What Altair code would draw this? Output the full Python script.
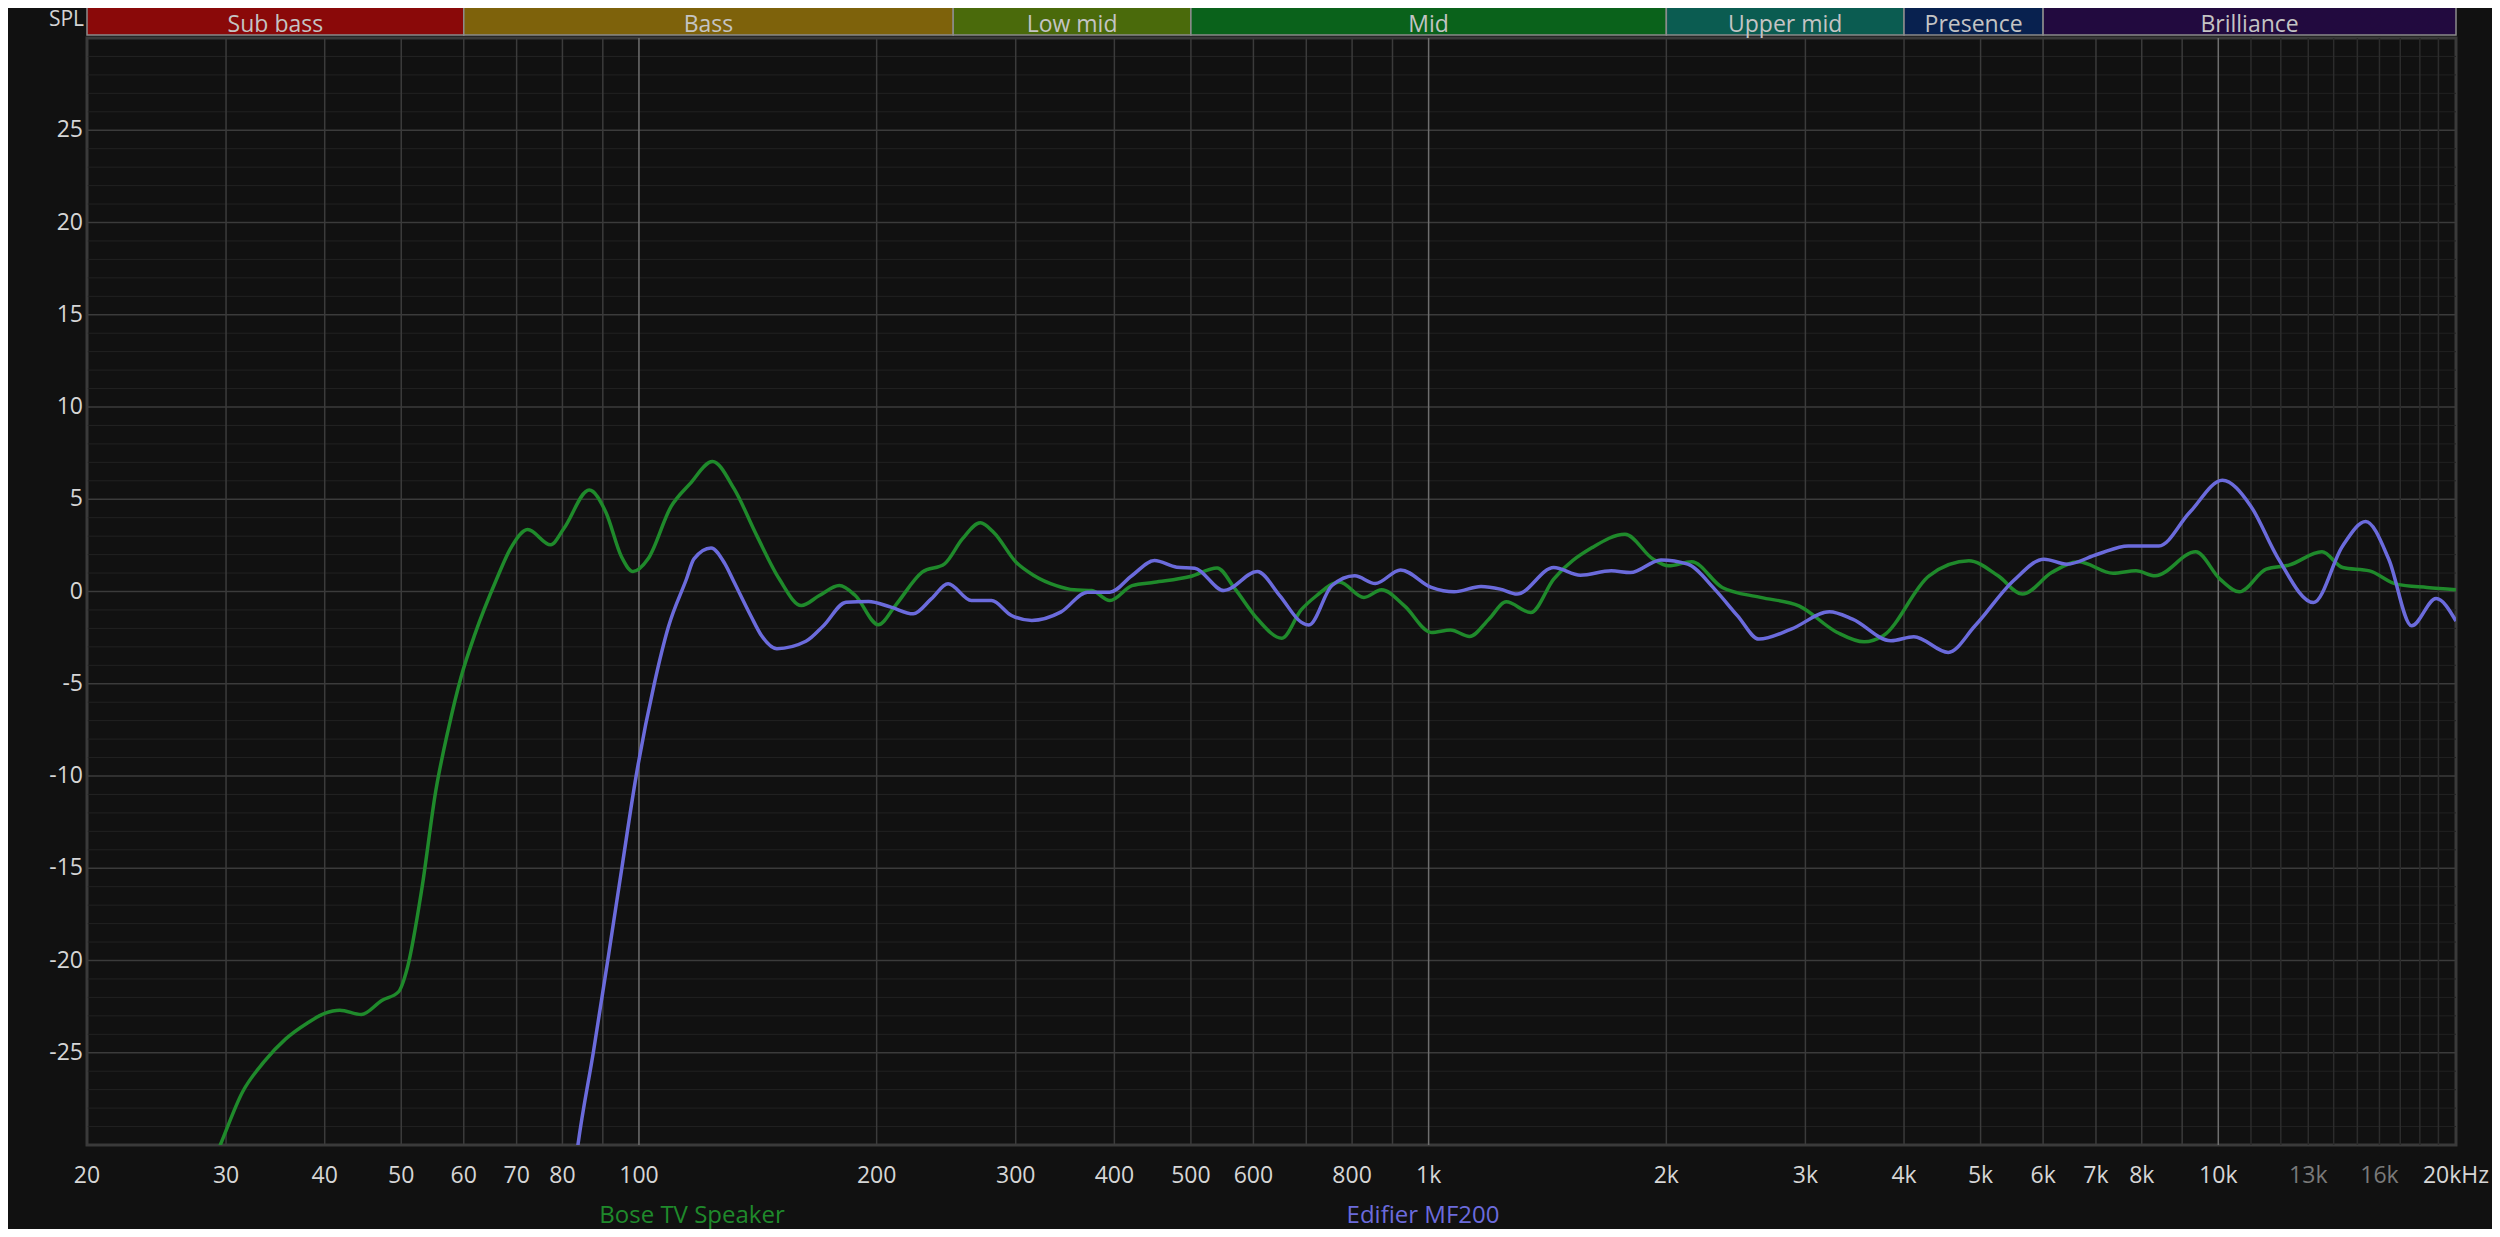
import altair as alt
import pandas as pd

# ---------------- data ----------------
green_f = [27.5, 29.5, 31.5, 33.5, 35.7, 38.0, 40.0, 41.8, 44.5, 47.3, 49.6, 50.9, 53.1, 55.3,
           57.4, 59.5, 62.0, 66.0, 68.7, 72.3, 77.3, 80.3, 86.5, 90.8, 95.0, 98.3, 102.7,
           109.8, 116.0, 123.9, 132.0, 141.0, 150.5, 160.6, 169.2, 179.4, 187.9, 201.0,
           211.2, 228.4, 243.8, 256.8, 270.6, 281.4, 300.3, 316.3, 337.6, 355.6, 374.6,
           394.7, 421.2, 449.6, 499.0, 539.7, 568.6, 606.7, 651.9, 689.5, 721.0, 770.8,
           828.2, 872.0, 932.0, 1008, 1066, 1127, 1192, 1254, 1347, 1440, 1611, 1773, 1925,
           2013, 2153, 2354, 2632, 2944, 3292, 3560, 3764, 4303, 4833, 5262, 5650, 6152,
           6650, 7356, 7867, 8316, 9363, 10050, 10630, 11500, 12290, 13530, 14370, 15540,
           16810, 18380, 20000]
green_db = [-33.2, -30.0, -27.1, -25.5, -24.25, -23.4, -22.87, -22.7, -22.93, -22.15, -21.7,
            -20.4, -16.1, -10.8, -7.4, -4.67, -2.3, 0.65, 2.3, 3.36, 2.53, 3.4, 5.5, 4.3, 1.9,
            1.08, 1.77, 4.6, 5.83, 7.05, 5.56, 3.03, 0.69, -0.76, -0.22, 0.32, -0.22, -1.8,
            -0.76, 1.05, 1.5, 2.85, 3.72, 3.2, 1.59, 0.87, 0.32, 0.09, 0.05, -0.49, 0.32,
            0.5, 0.81, 1.28, 0.14, -1.48, -2.53, -1.0, -0.23, 0.52, -0.32, 0.09, -0.78,
            -2.22, -2.09, -2.44, -1.5, -0.56, -1.14, 0.67, 2.38, 3.1, 1.75, 1.39, 1.61, 0.22,
            -0.32, -0.78, -2.22, -2.73, -2.4, 0.85, 1.66, 0.85, -0.14, 1.03, 1.61, 0.99,
            1.12, 0.85, 2.15, 0.67, -0.02, 1.21, 1.43, 2.15, 1.3, 1.12, 0.4, 0.22, 0.1]

purple_f = [81.5, 83.7, 87.6, 91.3, 95.2, 99.2, 104.5, 109.0, 114.8, 117.4, 123.4, 128.5,
            132.0, 138.5, 143.0, 149.5, 162.7, 171.4, 182.9, 195.3, 208.5, 222.5, 234.5,
            246.3, 263.6, 279.5, 296.3, 314.4, 342.0, 369.8, 394.7, 421.2, 449.6, 479.8,
            505.6, 550.5, 606.7, 647.8, 689.5, 705.2, 753.9, 806.2, 855.8, 921.5, 1008,
            1077, 1165, 1232, 1294, 1440, 1557, 1703, 1801, 1969, 2129, 2302, 2462, 2620,
            2878, 3218, 3442, 3850, 4116, 4550, 4920, 5502, 6017, 6433, 7031, 7690, 8409,
            9196, 10120, 10990, 11890, 13200, 14370, 15370, 16440, 17570, 18870, 20000]
purple_db = [-34.0, -30.0, -24.9, -20.0, -14.9, -9.98, -5.06, -1.9, 0.65, 1.77, 2.36, 1.5,
             0.5, -1.3, -2.4, -3.1, -2.7, -1.84, -0.58, -0.54, -0.85, -1.21, -0.4, 0.42,
             -0.49, -0.49, -1.3, -1.57, -1.12, -0.04, -0.04, 0.87, 1.68, 1.32, 1.26, 0.05,
             1.08, -0.22, -1.66, -1.82, 0.31, 0.85, 0.43, 1.17, 0.22, -0.02, 0.27, 0.13,
             -0.14, 1.3, 0.88, 1.12, 1.03, 1.71, 1.48, 0.13, -1.32, -2.58, -2.04, -1.1,
             -1.5, -2.67, -2.45, -3.3, -1.86, 0.58, 1.75, 1.48, 2.02, 2.47, 2.47, 4.28,
             6.03, 4.64, 1.84, -0.6, 2.47, 3.79, 1.75, -1.86, -0.38, -1.6]

band_names = ["Sub bass", "Bass", "Low mid", "Mid", "Upper mid", "Presence", "Brilliance"]
band_start = [20, 60, 250, 500, 2000, 4000, 6000]
band_end = [60, 250, 500, 2000, 4000, 6000, 20000]
band_colors = ["#8a0909", "#7e620b", "#4a6a0b", "#0a621b", "#0b5c51", "#08214f", "#220a3f"]

xtick_values = [20, 30, 40, 50, 60, 70, 80, 100, 200, 300, 400, 500, 600, 800, 1000, 2000,
                3000, 4000, 5000, 6000, 7000, 8000, 10000, 13000, 16000, 20000]
xtick_labels = ["20", "30", "40", "50", "60", "70", "80", "100", "200", "300", "400", "500",
                "600", "800", "1k", "2k", "3k", "4k", "5k", "6k", "7k", "8k", "10k", "13k",
                "16k", "20kHz"]
xtick_dim = ["13k", "16k"]

ytick_values = [25, 20, 15, 10, 5, 0, -5, -10, -15, -20, -25]

vgrid_main = [20, 30, 40, 50, 60, 70, 80, 90, 200, 300, 400, 500, 600, 700, 800, 900,
              2000, 3000, 4000, 5000, 6000, 7000, 8000, 9000]
vgrid_hi = [11000, 12000, 13000, 14000, 15000, 16000, 17000, 18000, 19000]
vgrid_decade = [100, 1000, 10000]
hgrid_major = [-25, -20, -15, -10, -5, 0, 5, 10, 15, 20, 25]
hgrid_minor = [v for v in range(-29, 30) if v % 5 != 0]

series_names = ["Bose TV Speaker", "Edifier MF200"]
series_colors = ["#1f8a2b", "#6b6bdc"]

# ---------------- chart ----------------
FONT = "Open Sans"
W, H = 2369, 1107

xscale = alt.Scale(type="log", domain=[20, 20000], nice=False)
yscale = alt.Scale(domain=[-30, 30], nice=False, zero=False)

def X(field="f"):
    return alt.X(f"{field}:Q", scale=xscale, axis=None)

def Y(field="db"):
    return alt.Y(f"{field}:Q", scale=yscale, axis=None)

hminor = alt.Chart(pd.DataFrame({"db": hgrid_minor})).mark_rule(
    color="#222222", strokeWidth=1).encode(y=Y())
hmajor = alt.Chart(pd.DataFrame({"db": hgrid_major})).mark_rule(
    color="#3b3b3b", strokeWidth=1.5).encode(y=Y())
vmain = alt.Chart(pd.DataFrame({"f": vgrid_main})).mark_rule(
    color="#3b3b3b", strokeWidth=1.5).encode(x=X())
vhi = alt.Chart(pd.DataFrame({"f": vgrid_hi})).mark_rule(
    color="#2c2c2c", strokeWidth=1.5).encode(x=X())
vdec = alt.Chart(pd.DataFrame({"f": vgrid_decade})).mark_rule(
    color="#6e6e6e", strokeWidth=1.5).encode(x=X())

df_g = pd.DataFrame({"f": green_f, "db": green_db, "s": series_names[0]})
df_p = pd.DataFrame({"f": purple_f, "db": purple_db, "s": series_names[1]})
curves = alt.Chart(pd.concat([df_g, df_p])).mark_line(
    clip=True, strokeWidth=3.5, interpolate="monotone").encode(
    x=X(), y=Y(),
    color=alt.Color("s:N", scale=alt.Scale(domain=series_names, range=series_colors), legend=None),
    detail="s:N")

df_band = pd.DataFrame({"name": band_names, "f": band_start, "f2": band_end})
bands = alt.Chart(df_band).mark_rect(stroke="#8c8c8c", strokeWidth=1.5).encode(
    x=X(), x2="f2:Q", y=alt.value(-31.5), y2=alt.value(-3),
    color=alt.Color("name:N", scale=alt.Scale(domain=band_names, range=band_colors), legend=None))
band_text = alt.Chart(df_band).transform_calculate(
    fm="sqrt(datum.f * datum.f2)").mark_text(
    font=FONT, fontSize=23, color="#c4c4c4", baseline="alphabetic", align="center").encode(
    x=X("fm"), y=alt.value(-6), text="name:N")

spl = alt.Chart(pd.DataFrame({"t": ["SPL"]})).mark_text(
    font=FONT, fontSize=21, color="#d4d4d4", align="right", baseline="alphabetic").encode(
    x=alt.value(-3), y=alt.value(-12), text="t:N")

df_xt = pd.DataFrame({"f": xtick_values, "label": xtick_labels})
df_xt["c"] = ["#7a7a7a" if l in xtick_dim else "#d6d6d6" for l in xtick_labels]
xt = alt.Chart(df_xt).mark_text(font=FONT, fontSize=23, baseline="middle", align="center").encode(
    x=X(), y=alt.value(1138), text="label:N", color=alt.Color("c:N", scale=None))

df_yt = pd.DataFrame({"db": ytick_values, "label": [str(v) for v in ytick_values]})
yt = alt.Chart(df_yt).mark_text(font=FONT, fontSize=23, baseline="middle", align="right",
                                color="#d6d6d6").encode(
    x=alt.value(-4), y=Y(), text="label:N")

df_leg = pd.DataFrame({"name": series_names, "px": [605, 1336]})
leg = alt.Chart(df_leg).mark_text(font=FONT, fontSize=24, baseline="middle", align="center").encode(
    x=alt.X("px:Q", scale=None, axis=None), y=alt.value(1178), text="name:N",
    color=alt.Color("name:N", scale=alt.Scale(domain=series_names, range=series_colors), legend=None))

chart = alt.layer(hminor, hmajor, vmain, vhi, vdec, curves, bands, band_text, spl, xt, yt, leg).resolve_scale(
    color="independent").properties(
    width=W, height=H,
    autosize=alt.AutoSizeParams(type="none"),
    padding={"left": 79, "top": 30, "right": 36, "bottom": 84},
    background="#111111",
).configure_view(stroke="#3a3a3a", strokeWidth=3)

chart.save("out.html", embed_options={"renderer": "svg", "actions": False})
